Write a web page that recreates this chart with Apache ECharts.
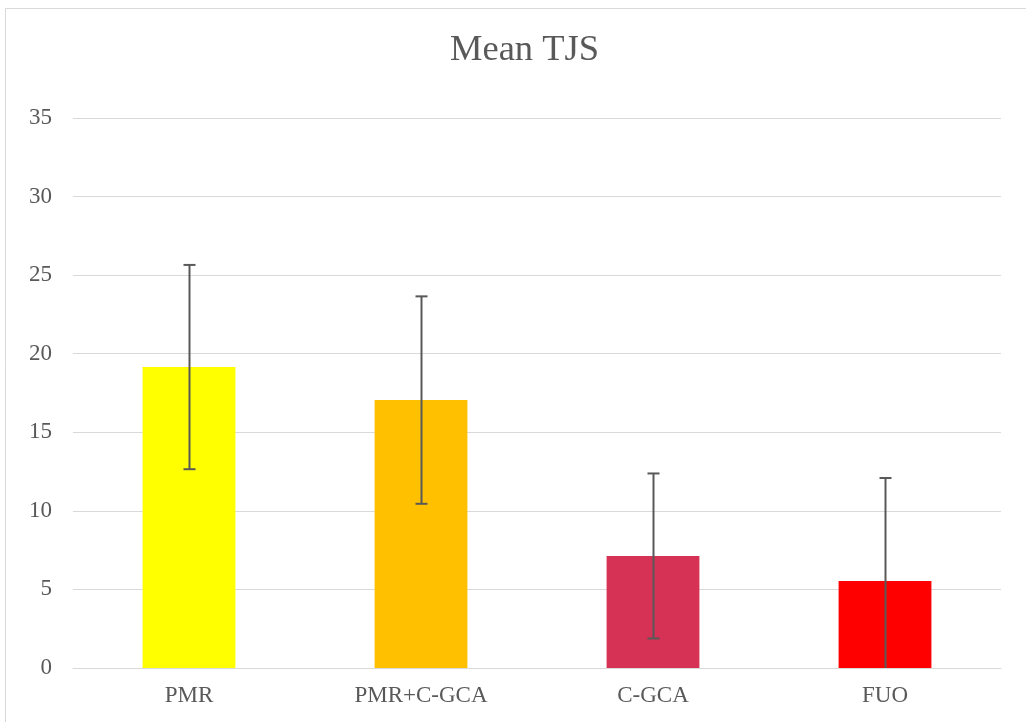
<!DOCTYPE html>
<html>
<head>
<meta charset="utf-8">
<style>html,body{margin:0;padding:0;background:#fff}#c{width:1026px;height:722px}</style>
<script src="https://cdn.jsdelivr.net/npm/echarts@6/dist/echarts.min.js"></script>
</head>
<body>
<div id="c"></div>
<script>
var categories = ['PMR', 'PMR+C-GCA', 'C-GCA', 'FUO'];
var means = [19.15, 17.05, 7.13, 5.54];
var errors = [6.5, 6.6, 5.25, 6.55];
var colors = ['#FFFF00', '#FFC000', '#D63255', '#FF0000'];
var yTicks = [0, 5, 10, 15, 20, 25, 30, 35];

var chart = echarts.init(document.getElementById('c'));
var font = '"Liberation Serif", "Times New Roman", serif';
var errData = means.map(function (m, i) { return [i, m - errors[i], m + errors[i]]; });

chart.setOption({
  animation: false,
  graphic: [{
    type: 'rect', z: -10,
    shape: { x: 5.5, y: 8.5, width: 1100, height: 800 },
    style: { fill: '#fff', stroke: '#D9D9D9', lineWidth: 1 }
  }],
  title: {
    text: 'Mean TJS', left: 445, top: 27,
    textStyle: { fontFamily: font, fontSize: 36.5, fontWeight: 'normal', color: '#595959' }
  },
  grid: { left: 73, right: 25, top: 118, bottom: 54 },
  xAxis: {
    type: 'category', data: categories,
    axisLine: { lineStyle: { color: '#D9D9D9', width: 1 } },
    axisTick: { show: false },
    axisLabel: { fontFamily: font, fontSize: 23, color: '#595959', margin: 16 }
  },
  yAxis: {
    type: 'value', min: yTicks[0], max: yTicks[yTicks.length - 1], interval: 5,
    axisLine: { show: false }, axisTick: { show: false },
    splitLine: { lineStyle: { color: '#D9D9D9', width: 1 } },
    axisLabel: { fontFamily: font, fontSize: 23, color: '#595959', margin: 21 }
  },
  series: [{
    type: 'bar', barWidth: '40%',
    data: means.map(function (m, i) { return { value: m, itemStyle: { color: colors[i] } }; })
  }, {
    type: 'custom', z: 10,
    data: errData,
    renderItem: function (params, api) {
      var x = api.value(0);
      var lo = api.value(1), hi = api.value(2);
      var clipped = lo < 0;
      if (clipped) lo = 0;
      var pHi = api.coord([x, hi]);
      var pLo = api.coord([x, lo]);
      var cx = Math.round(pHi[0]) + 0.5;
      var half = 6;
      var style = { stroke: '#595959', lineWidth: 2 };
      var children = [
        { type: 'line', shape: { x1: cx, y1: pHi[1], x2: cx, y2: pLo[1] }, style: style },
        { type: 'line', shape: { x1: cx - half, y1: pHi[1], x2: cx + half, y2: pHi[1] }, style: style }
      ];
      if (!clipped) children.push({ type: 'line', shape: { x1: cx - half, y1: pLo[1], x2: cx + half, y2: pLo[1] }, style: style });
      return { type: 'group', children: children };
    }
  }]
});
</script>
</body>
</html>
